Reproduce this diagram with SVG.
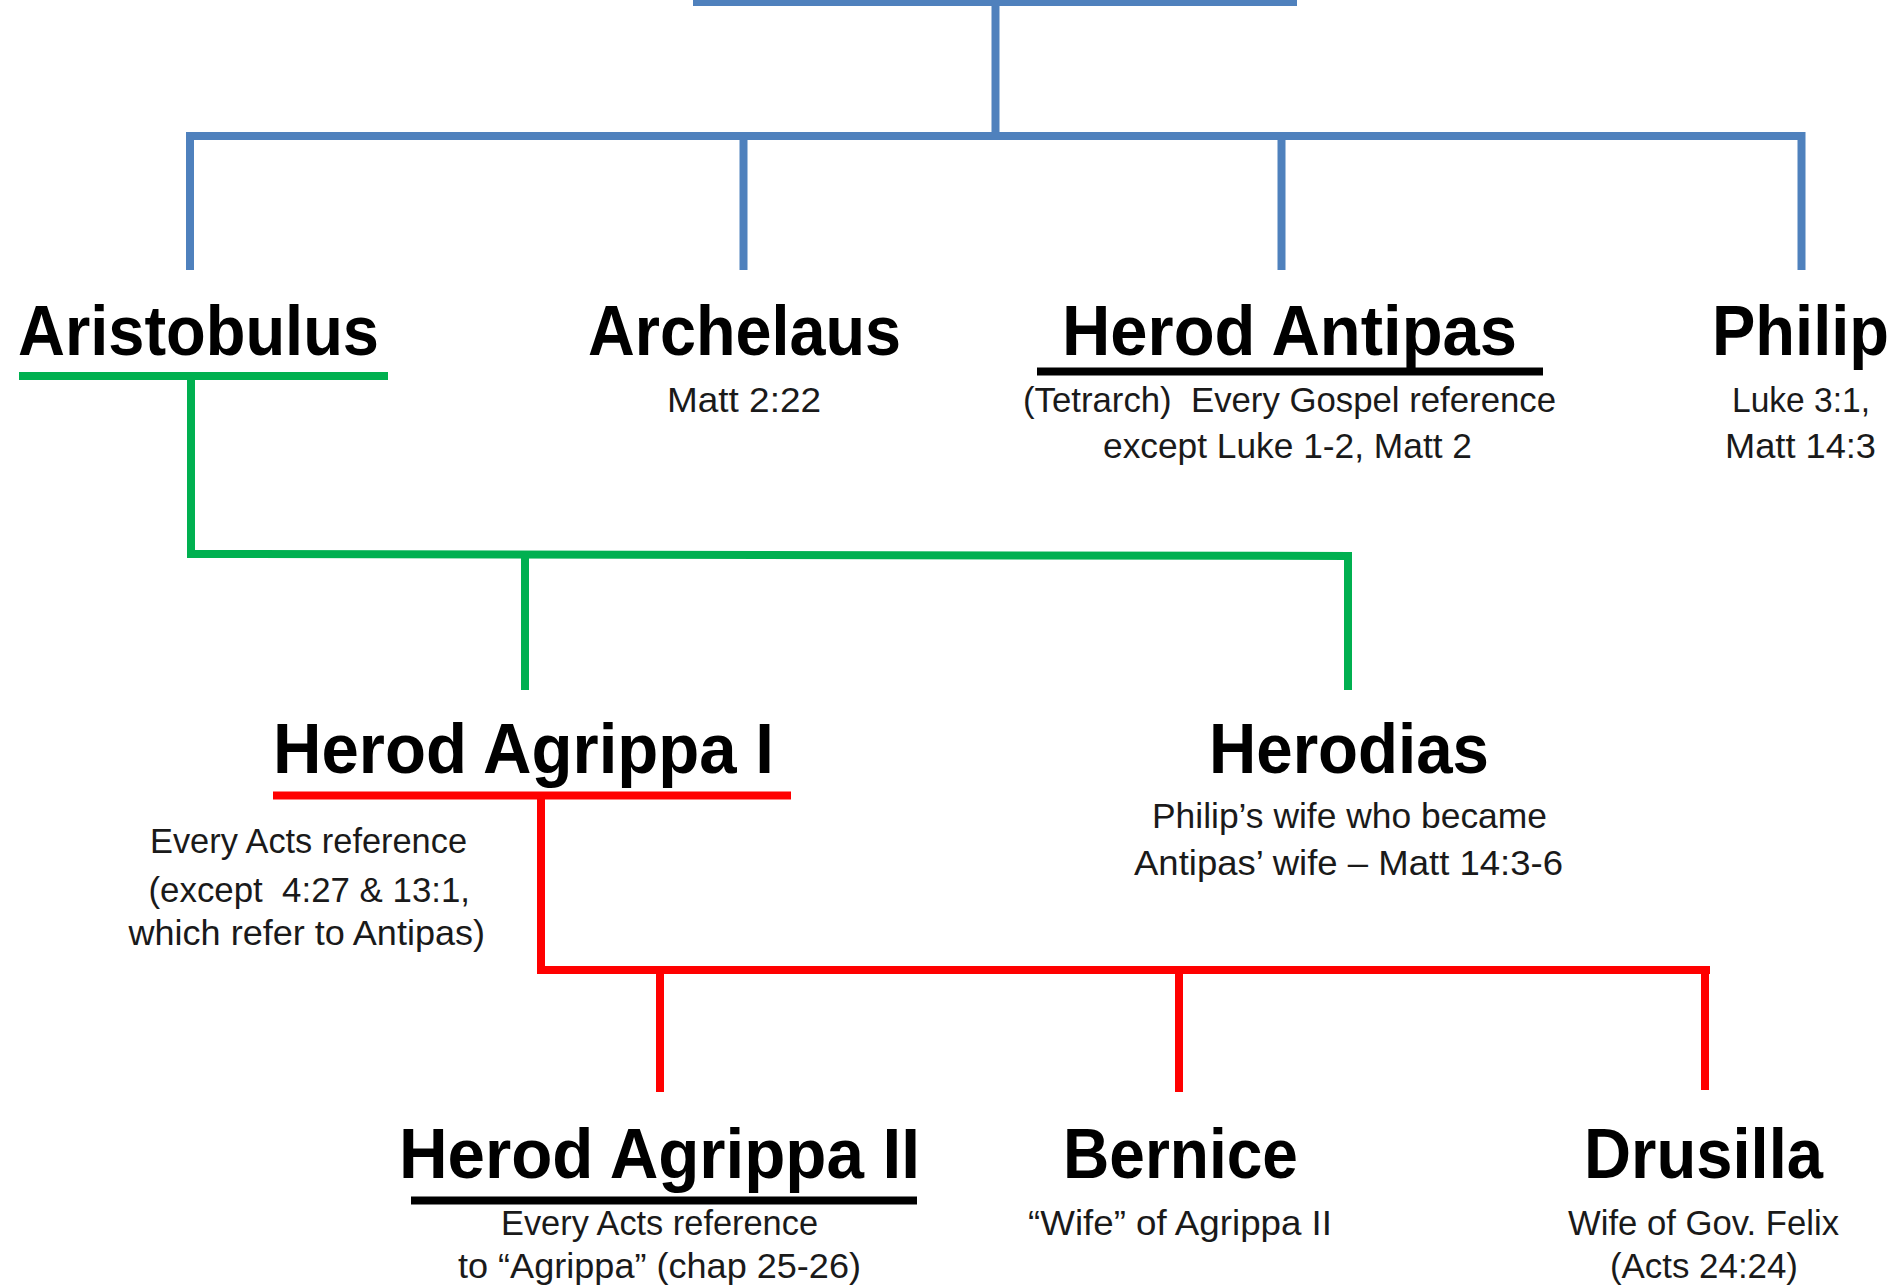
<svg xmlns="http://www.w3.org/2000/svg" width="1900" height="1288" viewBox="0 0 1900 1288">
<style>
.name{font-family:"Liberation Sans",Arial,sans-serif;font-weight:bold;font-size:70px;fill:#000}
.sub{font-family:"Liberation Sans",Arial,sans-serif;font-size:35px;fill:#1a1a1a}
.blue{stroke:#4F81BD;stroke-width:8;fill:none}
.green{stroke:#00B050;stroke-width:8;fill:none}
.red{stroke:#FF0000;stroke-width:8;fill:none}
.black{stroke:#000;stroke-width:8;fill:none}
</style>
<rect width="1900" height="1288" fill="#fff"/>
<g id="connectors">
  <line class="blue" x1="693" y1="2" x2="1297" y2="2"/>
  <line class="blue" x1="995.5" y1="0" x2="995.5" y2="136"/>
  <polyline class="blue" points="190,270 190,136 1801.5,136 1801.5,270"/>
  <line class="blue" x1="743.5" y1="136" x2="743.5" y2="270"/>
  <line class="blue" x1="1281.5" y1="136" x2="1281.5" y2="270"/>
  <polyline class="green" points="191,376 191,554 1348,556 1348,690"/>
  <line class="green" x1="525" y1="554" x2="525" y2="690"/>
  <polyline class="red" points="541,795 541,970 1710,970"/>
  <line class="red" x1="660" y1="970" x2="660" y2="1092"/>
  <line class="red" x1="1179" y1="970" x2="1179" y2="1092"/>
  <line class="red" x1="1705" y1="970" x2="1705" y2="1090"/>
</g>
<g id="node-aristobulus">
  <text class="name" x="18" y="355" textLength="361" lengthAdjust="spacingAndGlyphs">Aristobulus</text>
  <line class="green" x1="19" y1="376" x2="388" y2="376"/>
</g>
<g id="node-archelaus">
  <text class="name" x="588" y="355" textLength="313" lengthAdjust="spacingAndGlyphs">Archelaus</text>
  <text class="sub" x="667" y="412" textLength="154" lengthAdjust="spacingAndGlyphs">Matt 2:22</text>
</g>
<g id="node-antipas">
  <text class="name" x="1062" y="355" textLength="455" lengthAdjust="spacingAndGlyphs">Herod Antipas</text>
  <line class="black" x1="1037" y1="371.5" x2="1543" y2="371.5"/>
  <text class="sub" x="1023" y="412" textLength="533" lengthAdjust="spacingAndGlyphs" xml:space="preserve">(Tetrarch)  Every Gospel reference</text>
  <text class="sub" x="1103" y="458" textLength="369" lengthAdjust="spacingAndGlyphs">except Luke 1-2, Matt 2</text>
</g>
<g id="node-philip">
  <text class="name" x="1712" y="355" textLength="177" lengthAdjust="spacingAndGlyphs">Philip</text>
  <text class="sub" x="1732" y="412" textLength="138" lengthAdjust="spacingAndGlyphs">Luke 3:1,</text>
  <text class="sub" x="1725" y="458" textLength="151" lengthAdjust="spacingAndGlyphs">Matt 14:3</text>
</g>
<g id="node-agrippa1">
  <text class="name" x="273" y="773" textLength="501" lengthAdjust="spacingAndGlyphs">Herod Agrippa I</text>
  <line class="red" x1="273" y1="795.5" x2="791" y2="795.5"/>
  <text class="sub" x="150" y="853" textLength="317" lengthAdjust="spacingAndGlyphs">Every Acts reference</text>
  <text class="sub" x="148.5" y="902" textLength="321.5" lengthAdjust="spacingAndGlyphs" xml:space="preserve">(except  4:27 &amp; 13:1,</text>
  <text class="sub" x="128.5" y="945" textLength="356.5" lengthAdjust="spacingAndGlyphs">which refer to Antipas)</text>
</g>
<g id="node-herodias">
  <text class="name" x="1209" y="773" textLength="280" lengthAdjust="spacingAndGlyphs">Herodias</text>
  <text class="sub" x="1152" y="828" textLength="395" lengthAdjust="spacingAndGlyphs">Philip’s wife who became</text>
  <text class="sub" x="1134" y="875" textLength="429" lengthAdjust="spacingAndGlyphs">Antipas’ wife – Matt 14:3-6</text>
</g>
<g id="node-agrippa2">
  <text class="name" x="399" y="1178" textLength="521" lengthAdjust="spacingAndGlyphs">Herod Agrippa II</text>
  <line class="black" x1="411" y1="1200.5" x2="917" y2="1200.5"/>
  <text class="sub" x="501" y="1235" textLength="317" lengthAdjust="spacingAndGlyphs">Every Acts reference</text>
  <text class="sub" x="458" y="1278" textLength="403" lengthAdjust="spacingAndGlyphs">to “Agrippa” (chap 25-26)</text>
</g>
<g id="node-bernice">
  <text class="name" x="1063" y="1178" textLength="235" lengthAdjust="spacingAndGlyphs">Bernice</text>
  <text class="sub" x="1028" y="1235" textLength="304" lengthAdjust="spacingAndGlyphs">“Wife” of Agrippa II</text>
</g>
<g id="node-drusilla">
  <text class="name" x="1584" y="1178" textLength="239" lengthAdjust="spacingAndGlyphs">Drusilla</text>
  <text class="sub" x="1568" y="1235" textLength="271" lengthAdjust="spacingAndGlyphs">Wife of Gov. Felix</text>
  <text class="sub" x="1610" y="1278" textLength="188" lengthAdjust="spacingAndGlyphs">(Acts 24:24)</text>
</g>
</svg>
